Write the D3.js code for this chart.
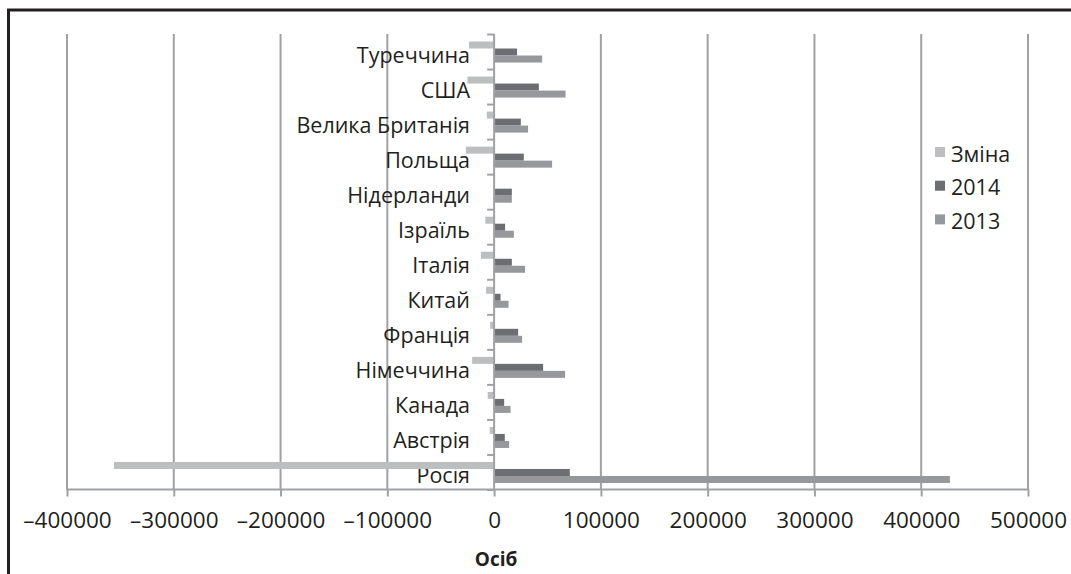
<!DOCTYPE html>
<html>
<head>
<meta charset="utf-8">
<script src="https://cdn.jsdelivr.net/npm/d3@7"></script>
<style>
  html, body { margin: 0; padding: 0; background: #fff; }
  svg { display: block; font-family: "Open Sans", "Noto Sans", sans-serif; }
</style>
</head>
<body>
<svg id="chart" width="1071" height="574"></svg>
<script>
// Countries, top to bottom
const categories = ["Туреччина", "США", "Велика Британія", "Польща", "Нідерланди",
  "Ізраїль", "Італія", "Китай", "Франція", "Німеччина", "Канада", "Австрія", "Росія"];

// Series (persons)
const seriesNames = ["Зміна", "2014", "2013"];
const values2014 = [21500, 41900, 25000, 27800, 16600, 10300, 16600, 6000, 22500, 45900, 9400, 10000, 70900];
const values2013 = [45000, 66900, 31800, 54300, 16600, 18500, 29000, 13500, 26200, 66500, 15400, 14100, 426900];
const valuesChange = [-23500, -25000, -6800, -26500, 0, -8200, -12400, -7500, -3700, -20600, -6000, -4100, -356000];

const tickValues = [-400000, -300000, -200000, -100000, 0, 100000, 200000, 300000, 400000, 500000];
const axisTitle = "Осіб";

const colors = { "Зміна": "#bcbec0", "2014": "#6d6e71", "2013": "#97989b" };
const gridColor = "#a0a1a4";
const textColor = "#231f20";

const svg = d3.select("#chart");

const x = d3.scaleLinear().domain([-400000, 500000]).range([67, 1028]);
const y = d3.scaleBand().domain(categories).range([34.5, 490]).paddingInner(0).paddingOuter(0);
const ySeries = d3.scaleBand().domain(seriesNames).range([0, y.bandwidth()]).paddingInner(0).paddingOuter(1);

const rows = categories.map((c, i) => ({
  category: c,
  values: [
    { key: "Зміна", value: valuesChange[i] },
    { key: "2014", value: values2014[i] },
    { key: "2013", value: values2013[i] }
  ]
}));

// Outer frame (only top and left edges fall inside the page)
svg.append("rect")
  .attr("x", 8.5).attr("y", 10)
  .attr("width", 1100).attr("height", 600)
  .attr("fill", "none")
  .attr("stroke", textColor)
  .attr("stroke-width", 3);

// Vertical gridlines
svg.append("g")
  .selectAll("line")
  .data(tickValues.filter(d => d !== 0))
  .join("line")
  .attr("x1", d => x(d)).attr("x2", d => x(d))
  .attr("y1", 34).attr("y2", 490)
  .attr("stroke", gridColor)
  .attr("stroke-width", 2);

// Category labels
svg.append("g")
  .selectAll("text")
  .data(categories)
  .join("text")
  .attr("x", 470)
  .attr("y", d => y(d) + y.bandwidth() / 2 + 2)
  .attr("text-anchor", "end")
  .attr("dominant-baseline", "central")
  .attr("font-size", 21.5)
  .attr("fill", textColor)
  .text(d => d);

// Bars
const groups = svg.append("g")
  .selectAll("g")
  .data(rows)
  .join("g")
  .attr("transform", d => `translate(0,${y(d.category)})`);

groups.selectAll("rect")
  .data(d => d.values)
  .join("rect")
  .attr("x", d => x(Math.min(0, d.value)))
  .attr("width", d => Math.abs(x(d.value) - x(0)))
  .attr("y", d => ySeries(d.key))
  .attr("height", ySeries.bandwidth())
  .attr("fill", d => colors[d.key]);

// Bottom axis
const xAxis = d3.axisBottom(x)
  .tickValues(tickValues)
  .tickSize(7)
  .tickPadding(16)
  .tickFormat(d => d < 0 ? "–" + Math.abs(d) : String(d));

const gx = svg.append("g")
  .attr("transform", "translate(0,489.5)")
  .call(xAxis);
gx.select(".domain").attr("stroke", gridColor).attr("stroke-width", 2).attr("d", `M${x(-400000)},0H${x(500000)}`);
gx.selectAll(".tick line").attr("stroke", gridColor).attr("stroke-width", 2);
gx.selectAll(".tick text")
  .attr("font-size", 22.5)
  .attr("font-family", "'Open Sans', 'Noto Sans', sans-serif")
  .attr("fill", textColor);

// Vertical zero axis with category boundary ticks
const boundaries = categories.map(c => y(c)).concat([y.range()[1]]);
const gy = svg.append("g");
gy.append("line")
  .attr("x1", x(0)).attr("x2", x(0))
  .attr("y1", 34).attr("y2", 490)
  .attr("stroke", gridColor).attr("stroke-width", 2);
gy.selectAll("line.tk")
  .data(boundaries)
  .join("line")
  .attr("class", "tk")
  .attr("x1", x(0) - 7).attr("x2", x(0))
  .attr("y1", d => d).attr("y2", d => d)
  .attr("stroke", gridColor).attr("stroke-width", 2);

// Axis title
svg.append("text")
  .attr("x", x(0) + 2)
  .attr("y", 566)
  .attr("text-anchor", "middle")
  .attr("font-size", 19)
  .attr("font-weight", "bold")
  .attr("fill", textColor)
  .text(axisTitle);

// Legend
const legend = svg.append("g")
  .selectAll("g")
  .data(seriesNames)
  .join("g")
  .attr("transform", (d, i) => `translate(935,${152 + i * 33.7})`);
legend.append("rect")
  .attr("x", 0).attr("y", -5)
  .attr("width", 10).attr("height", 10)
  .attr("fill", d => colors[d]);
legend.append("text")
  .attr("x", 16).attr("y", 1)
  .attr("dominant-baseline", "central")
  .attr("font-size", 21.5)
  .attr("fill", textColor)
  .text(d => d);
</script>
</body>
</html>
